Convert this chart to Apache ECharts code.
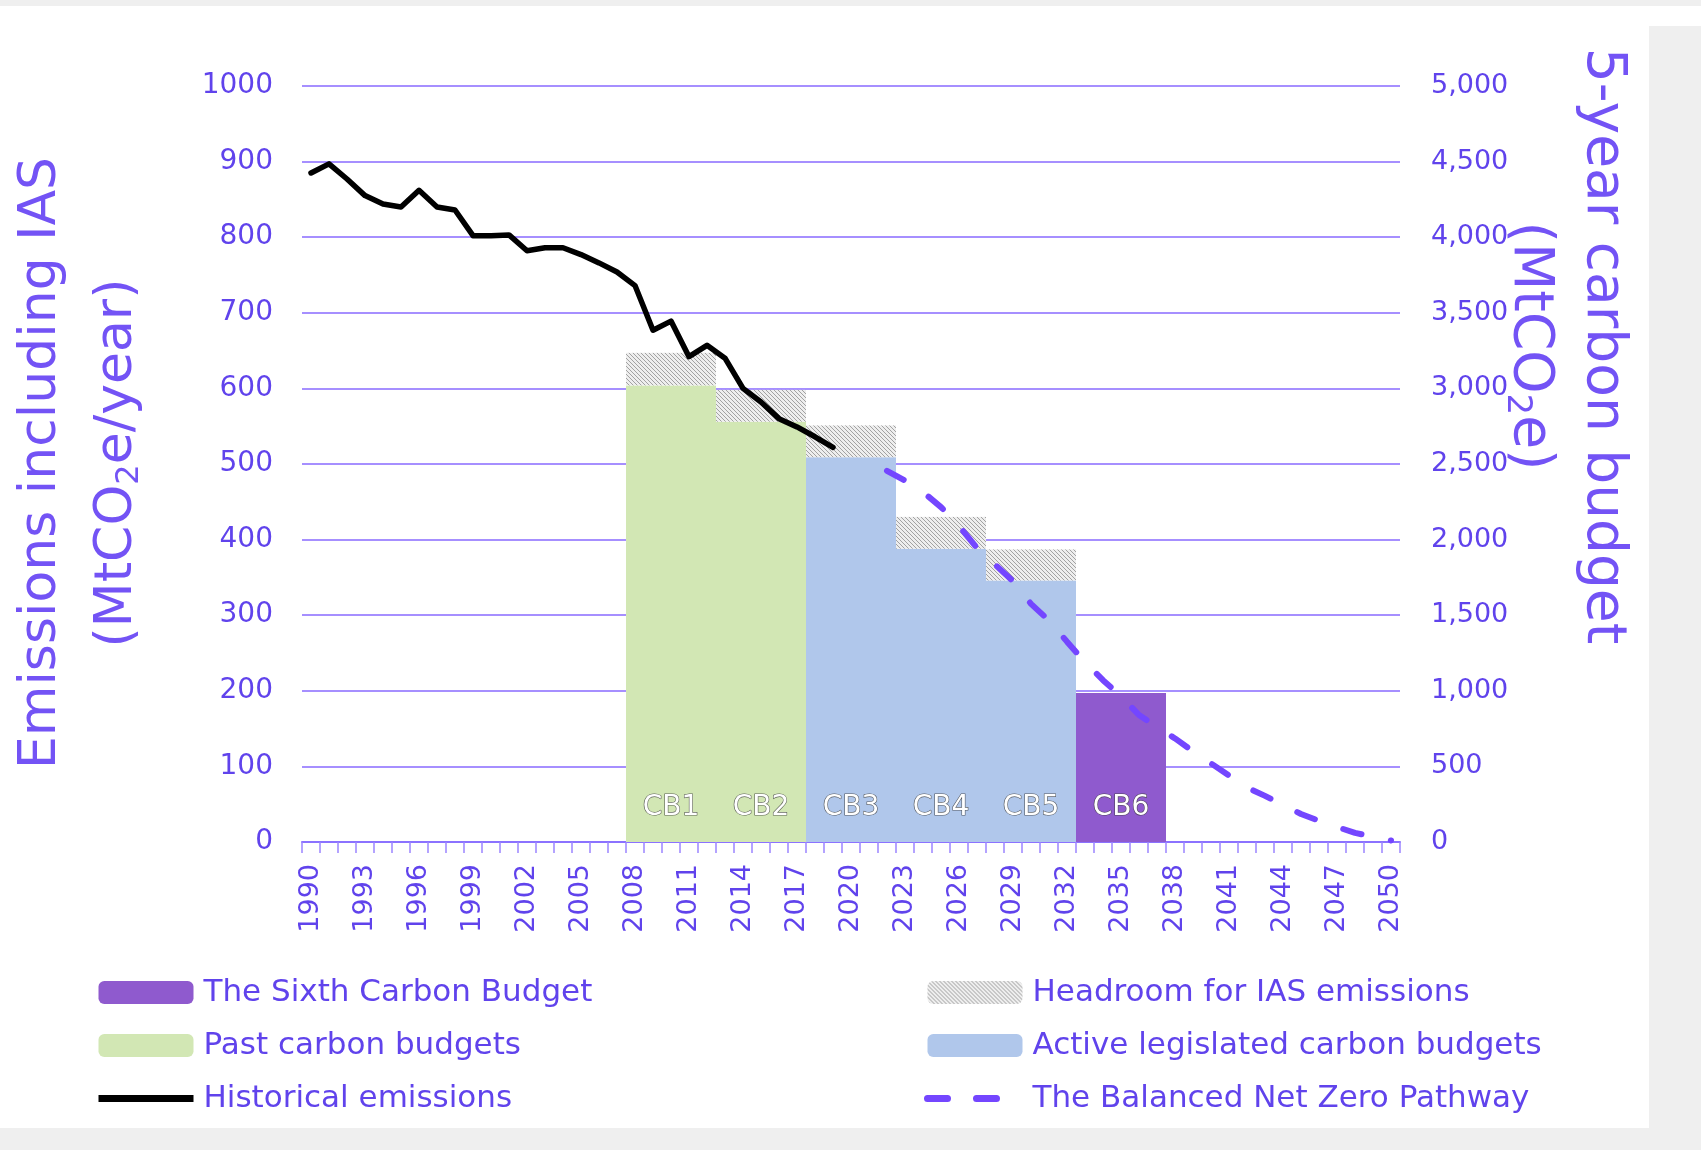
<!DOCTYPE html>
<html>
<head>
<meta charset="utf-8">
<title>Carbon budgets and the Balanced Net Zero Pathway</title>
<script src="https://cdn.jsdelivr.net/npm/echarts@6/dist/echarts.min.js"></script>
<style>
  html, body { margin: 0; padding: 0; background: #fff; }
  #chart { width: 1701px; height: 1150px; }
</style>
</head>
<body>
<div id="chart"></div>
<script>
// x categories, one per year
const years = [];
for (let y = 1990; y <= 2050; y++) years.push(String(y));

// carbon budgets: first year (5-year periods), annual budget, extra IAS headroom (MtCO2e/yr)
const cbNames = ["CB1", "CB2", "CB3", "CB4", "CB5", "CB6"];
const cbStart = [2008, 2013, 2018, 2023, 2028, 2033];
const cbKind = ["past", "past", "active", "active", "active", "sixth"];
const cbAnnual = [604, 556, 509, 388, 346, 197];
const cbHeadroom = [43, 42, 42, 42, 41, 0];

// historical emissions incl. IAS, from 1990
const historicalStart = 1990;
const historical = [885, 897, 877, 855, 844, 840, 862, 840, 836, 802, 802, 803, 782, 786, 786,
  777, 766, 754, 736, 677, 689, 642, 657, 640, 600, 582, 560, 549, 536, 522];

// Balanced Net Zero Pathway, from 2022
const pathwayStart = 2022;
const pathway = [491, 478, 463, 443, 418, 389, 367, 345, 315, 293, 265, 238, 214, 193, 168,
  152, 137, 120, 104, 88, 72, 61, 49, 37, 28, 20, 12, 7, 2];

const textColor = "#6043ec";
const nameColor = "#7353f5";
const pathColor = "#7446ff";
const font = "DejaVu Sans";

// grey hatch for the IAS headroom
const hatch = document.createElement("canvas");
hatch.width = 4; hatch.height = 4;
const hctx = hatch.getContext("2d");
hctx.fillStyle = "#eeeeee";
hctx.fillRect(0, 0, 4, 4);
hctx.fillStyle = "#a2a2a2";
for (let i = 0; i < 4; i++) hctx.fillRect(i, i, 1, 1);

const padSeries = (start, vals) => years.map(y => {
  const i = +y - start;
  return i >= 0 && i < vals.length ? vals[i] : "-";
});

const budgetIndex = y => cbStart.findIndex(s => y >= s && y < s + 5);

function budgetData(kind) {
  return years.map(y => {
    const i = budgetIndex(+y);
    if (i < 0 || cbKind[i] !== kind) return "-";
    const item = { value: cbAnnual[i] };
    if (+y === cbStart[i] + 2) item.label = { show: true, formatter: cbNames[i] };
    return item;
  });
}

const headroomData = years.map(y => {
  const i = budgetIndex(+y);
  return i >= 0 && cbHeadroom[i] > 0 ? cbHeadroom[i] : "-";
});

const cbLabel = {
  position: "insideBottom",
  distance: 20,
  color: "#fff",
  fontFamily: font,
  fontSize: 28,
  textBorderColor: "rgba(60,60,60,0.8)",
  textBorderWidth: 1.2
};

const budgetSeries = (name, kind, color) => ({
  name,
  type: "bar",
  stack: "cb",
  barWidth: "100%",
  data: budgetData(kind),
  itemStyle: { color },
  label: cbLabel
});

const legendText = { color: textColor, fontFamily: font, fontSize: 31, padding: [0, 0, 0, 5] };
const legendBase = { orient: "vertical", top: 972, itemWidth: 95, itemHeight: 23, itemGap: 22, textStyle: legendText };

const chart = echarts.init(document.getElementById("chart"));
chart.setOption({
  animation: false,
  backgroundColor: "#fff",
  textStyle: { fontFamily: font },
  grid: { left: 302, right: 301, top: 86, height: 756 },
  xAxis: {
    type: "category",
    data: years,
    axisLine: { show: true, lineStyle: { color: "#8b72ff", width: 2 } },
    axisTick: { show: true, interval: 0, alignWithLabel: false, length: 11,
      lineStyle: { color: "#9c85ff", width: 1.5 } },
    axisLabel: { interval: 2, rotate: 90, margin: 22, color: textColor, fontSize: 27, fontFamily: font }
  },
  yAxis: [
    {
      type: "value", min: 0, max: 1000, interval: 100,
      axisLine: { show: false }, axisTick: { show: false },
      splitLine: { lineStyle: { color: "#a68fff", width: 2 } },
      axisLabel: { margin: 29, color: textColor, fontSize: 28, fontFamily: font, formatter: v => String(v) }
    },
    {
      type: "value", min: 0, max: 5000, interval: 500, position: "right",
      axisLine: { show: false }, axisTick: { show: false }, splitLine: { show: false },
      axisLabel: { margin: 31, color: textColor, fontSize: 27, fontFamily: font,
        formatter: v => v.toLocaleString("en-US") }
    }
  ],
  legend: [
    Object.assign({}, legendBase, {
      left: 90,
      data: [
        "The Sixth Carbon Budget",
        "Past carbon budgets",
        { name: "Historical emissions", itemStyle: { opacity: 0 },
          lineStyle: { color: "#000", width: 7, cap: "butt" } }
      ]
    }),
    Object.assign({}, legendBase, {
      left: 919,
      data: [
        "Headroom for IAS emissions",
        "Active legislated carbon budgets",
        { name: "The Balanced Net Zero Pathway", itemStyle: { opacity: 0 },
          lineStyle: { color: pathColor, width: 7, type: [20, 29], cap: "round" } }
      ]
    })
  ],
  graphic: [
    { type: "rect", silent: true, shape: { x: 0, y: 0, width: 1701, height: 6 }, style: { fill: "#efefef" } },
    { type: "rect", silent: true, shape: { x: 1649, y: 26, width: 52, height: 1124 }, style: { fill: "#efefef" } },
    { type: "rect", silent: true, shape: { x: 0, y: 1128, width: 1701, height: 22 }, style: { fill: "#efefef" } },
    {
      type: "text", x: 79, y: 463, rotation: Math.PI / 2, z: 10,
      style: {
        text: "Emissions including IAS\n(MtCO{sub|2}e/year)",
        fill: nameColor, fontFamily: font, fontSize: 52, lineHeight: 76,
        align: "center", verticalAlign: "middle",
        rich: { sub: { fill: nameColor, fontFamily: font, fontSize: 32, lineHeight: 76, padding: [26, 0, 0, 0] } }
      }
    },
    {
      type: "text", x: 1566, y: 346, rotation: -Math.PI / 2, z: 10,
      style: {
        text: "5-year carbon budget\n(MtCO{sub|2}e)",
        fill: nameColor, fontFamily: font, fontSize: 55, lineHeight: 73,
        align: "center", verticalAlign: "middle",
        rich: { sub: { fill: nameColor, fontFamily: font, fontSize: 34, lineHeight: 73, padding: [26, 0, 0, 0] } }
      }
    }
  ],
  series: [
    budgetSeries("Past carbon budgets", "past", "#d2e7b4"),
    budgetSeries("Active legislated carbon budgets", "active", "#b0c7eb"),
    budgetSeries("The Sixth Carbon Budget", "sixth", "#8f5ace"),
    {
      name: "Headroom for IAS emissions",
      type: "bar",
      stack: "cb",
      barWidth: "100%",
      data: headroomData,
      itemStyle: { color: { image: hatch, repeat: "repeat" } }
    },
    {
      name: "Historical emissions",
      type: "line",
      data: padSeries(historicalStart, historical),
      symbol: "none",
      itemStyle: { color: "#000" },
      lineStyle: { color: "#000", width: 5.5, cap: "round", join: "round" },
      z: 5
    },
    {
      name: "The Balanced Net Zero Pathway",
      type: "line",
      data: padSeries(pathwayStart, pathway),
      symbol: "none",
      itemStyle: { color: pathColor },
      lineStyle: { color: pathColor, width: 6, type: [19, 30], cap: "round" },
      z: 6
    }
  ]
});
</script>
</body>
</html>
